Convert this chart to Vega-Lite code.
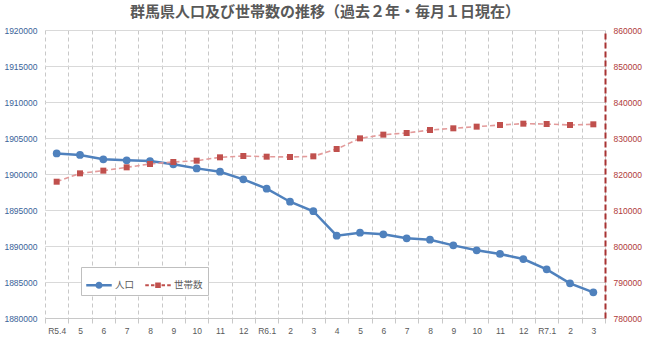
{
  "$schema": "https://vega.github.io/schema/vega-lite/v6.json",
  "width": 560,
  "height": 288,
  "autosize": {"type": "none"},
  "padding": {"left": 45, "top": 30, "right": 45, "bottom": 38},
  "background": "white",
  "title": {
    "text": "群馬県人口及び世帯数の推移（過去２年・毎月１日現在）",
    "font": "Noto Sans CJK JP",
    "fontSize": 15,
    "fontWeight": "bold",
    "color": "#595959",
    "anchor": "middle",
    "offset": 6
  },
  "config": {
    "view": {"stroke": null},
    "axis": {"labelFont": "Liberation Sans", "labelFontSize": 8.5, "labelOverlap": false}
  },
  "data": {
    "values": [
      {"月": "R5.4", "人口": 1902850, "世帯数": 817860},
      {"月": "R5.5", "人口": 1902640, "世帯数": 820180},
      {"月": "R5.6", "人口": 1902040, "世帯数": 820930},
      {"月": "R5.7", "人口": 1901900, "世帯数": 821850},
      {"月": "R5.8", "人口": 1901800, "世帯数": 822780},
      {"月": "R5.9", "人口": 1901340, "世帯数": 823330},
      {"月": "R5.10", "人口": 1900780, "世帯数": 823700},
      {"月": "R5.11", "人口": 1900320, "世帯数": 824630},
      {"月": "R5.12", "人口": 1899260, "世帯数": 825000},
      {"月": "R6.1", "人口": 1897960, "世帯数": 824810},
      {"月": "R6.2", "人口": 1896150, "世帯数": 824720},
      {"月": "R6.3", "人口": 1894830, "世帯数": 824910},
      {"月": "R6.4", "人口": 1891430, "世帯数": 826940},
      {"月": "R6.5", "人口": 1891850, "世帯数": 829900},
      {"月": "R6.6", "人口": 1891620, "世帯数": 830930},
      {"月": "R6.7", "人口": 1891070, "世帯数": 831390},
      {"月": "R6.8", "人口": 1890880, "世帯数": 832220},
      {"月": "R6.9", "人口": 1890090, "世帯数": 832690},
      {"月": "R6.10", "人口": 1889400, "世帯数": 833150},
      {"月": "R6.11", "人口": 1888890, "世帯数": 833610},
      {"月": "R6.12", "人口": 1888190, "世帯数": 833980},
      {"月": "R7.1", "人口": 1886760, "世帯数": 833890},
      {"月": "R7.2", "人口": 1884810, "世帯数": 833610},
      {"月": "R7.3", "人口": 1883560, "世帯数": 833800}
    ]
  },
  "encoding": {
    "x": {
      "field": "月",
      "type": "ordinal",
      "sort": null,
      "scale": {"type": "band", "paddingInner": 0, "paddingOuter": 0},
      "axis": {
        "title": null,
        "labelAngle": 0,
        "tickBand": "extent",
        "grid": true,
        "gridDash": [4, 3],
        "gridColor": "#C8C8C8",
        "domainColor": "#C8C8C8",
        "tickColor": "#C8C8C8",
        "tickSize": 5,
        "labelColor": "#595959",
        "labelPadding": 3,
        "labelExpr": "indexof(['R5.4','R6.1','R7.1'], datum.value) >= 0 ? datum.value : split(datum.value, '.')[1]"
      }
    }
  },
  "layer": [
    {
      "layer": [
        {
          "mark": {"type": "line", "color": "#4F81BD", "strokeWidth": 2.5},
          "encoding": {
            "y": {
              "field": "人口",
              "type": "quantitative",
              "scale": {"domain": [1880000, 1920000], "zero": false, "nice": false},
              "axis": {
                "orient": "left",
                "title": null,
                "values": [1880000, 1885000, 1890000, 1895000, 1900000, 1905000, 1910000, 1915000, 1920000],
                "tickCount": 9,
                "format": "d",
                "grid": true,
                "gridColor": "#D9D9D9",
                "domain": false,
                "ticks": false,
                "labelColor": "#3A6399",
                "labelPadding": 8
              }
            }
          }
        },
        {
          "mark": {"type": "point", "shape": "circle", "filled": true, "opacity": 1, "color": "#4F81BD", "size": 60},
          "encoding": {"y": {"field": "人口", "type": "quantitative"}}
        },
        {
          "transform": [{"filter": "false"}],
          "mark": {"type": "point", "filled": true, "opacity": 1, "size": 650},
          "encoding": {
            "color": {
              "field": "系列",
              "type": "nominal",
              "scale": {"domain": ["人口", "世帯数"], "range": ["#4F81BD", "#C0504D"]},
              "legend": {
                "title": null,
                "orient": "none",
                "legendX": 36,
                "legendY": 237,
                "direction": "horizontal",
                "strokeColor": "#BFBFBF",
                "fillColor": "white",
                "padding": 5,
                "symbolSize": 650,
                "symbolStrokeWidth": 0,
                "columnPadding": 10,
                "labelFont": "Noto Sans CJK JP",
                "labelFontSize": 9.5,
                "labelColor": "#595959",
                "labelOffset": 3
              }
            },
            "shape": {
              "field": "系列",
              "type": "nominal",
              "scale": {
                "domain": ["人口", "世帯数"],
                "range": [
                  "M-1,-0.1H1V0.1H-1Z M0.28,0A0.28,0.28 0 1,1 -0.28,0A0.28,0.28 0 1,1 0.28,0Z",
                  "M-1,-0.07H-0.72V0.07H-1Z M-0.55,-0.07H-0.28V0.07H-0.55Z M0.28,-0.07H0.55V0.07H0.28Z M0.72,-0.07H1V0.07H0.72Z M-0.22,-0.22H0.22V0.22H-0.22Z"
                ]
              }
            }
          }
        }
      ]
    },
    {
      "layer": [
        {
          "mark": {"type": "line", "color": "#E39B9B", "strokeWidth": 1.6, "strokeDash": [5, 3]},
          "encoding": {
            "y": {
              "field": "世帯数",
              "type": "quantitative",
              "scale": {"domain": [780000, 860000], "zero": false, "nice": false},
              "axis": {
                "orient": "right",
                "title": null,
                "values": [780000, 790000, 800000, 810000, 820000, 830000, 840000, 850000, 860000],
                "tickCount": 9,
                "format": "d",
                "grid": true,
                "gridColor": "#D9D9D9",
                "domain": true,
                "domainColor": "#A83232",
                "domainDash": [6, 3],
                "domainWidth": 2,
                "ticks": false,
                "labelColor": "#B03A3A",
                "labelPadding": 8
              }
            }
          }
        },
        {
          "mark": {"type": "point", "shape": "square", "filled": true, "opacity": 1, "color": "#C0504D", "size": 36},
          "encoding": {"y": {"field": "世帯数", "type": "quantitative"}}
        }
      ]
    }
  ],
  "resolve": {"scale": {"y": "independent"}}
}
